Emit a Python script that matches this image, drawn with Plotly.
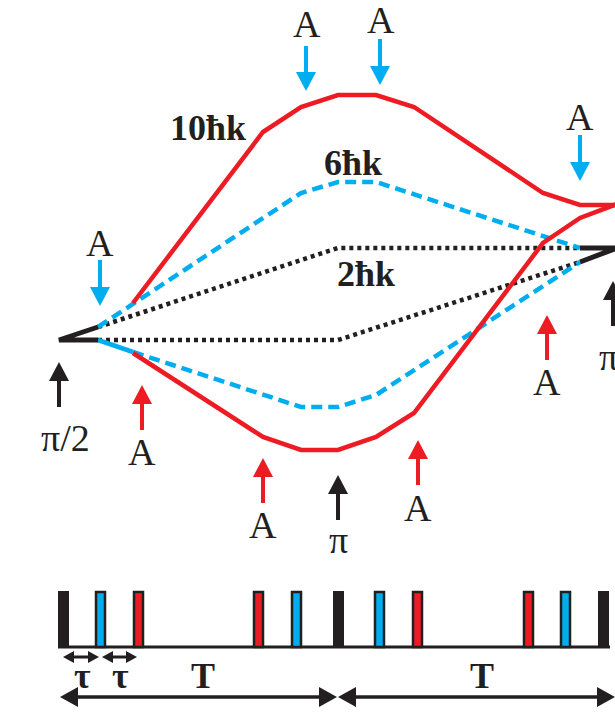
import plotly.graph_objects as go

# ---------------- data (diagram coordinates, pixel-like units) ----------------
RED = "#ED1C24"
BLUE = "#00AEEF"
BLACK = "#231F20"

# 10ħk arms (red)
red_up_x = [133, 263, 301, 338, 376, 414, 543, 580, 617]
red_up_y = [303, 132, 107, 95, 95, 107, 193, 205, 205]
red_lo_x = [133, 263, 301, 338, 376, 414, 543, 580, 617]
red_lo_y = [353, 437, 450, 450, 437, 413, 243, 218, 204]

# 6ħk arms (blue dashed)
blue_up_x = [98, 301, 338, 376, 580]
blue_up_y = [327, 193, 182, 182, 248]
blue_lo_x = [133, 301, 338, 376, 580]
blue_lo_y = [352, 407, 407, 395, 262]
blue_lo_solid_x = [98, 133]
blue_lo_solid_y = [340, 352]

# 2ħk arms (black dotted)
blk_up_x = [98, 338, 580]
blk_up_y = [327, 248, 248]
blk_lo_x = [98, 338, 580]
blk_lo_y = [340, 340, 262]

# beam splitter entry / exit (black solid)
blk_in_x = [98, 59, 98]
blk_in_y = [327, 340, 340]
blk_out_x = [580, 617, 580]
blk_out_y = [248, 248, 262]

# pulse arrows: x, tail y, tip y, colour, label, label position
arrow_x = [100, 306, 380, 580, 142, 263, 418, 547, 59, 338, 613]
arrow_tail = [260, 46, 39, 135, 430, 503, 485, 360, 407, 520, 326]
arrow_tip = [306, 91, 85, 181, 385, 458, 440, 315, 362, 475, 281]
arrow_color = [BLUE] * 4 + [RED] * 4 + [BLACK] * 3
arrow_label = ["A"] * 8 + ["π/2", "π", "π/2"]
label_x = [100, 307, 381, 580, 142, 263, 418, 547, 65, 338, 597]
label_y = [243, 24, 20, 117, 452, 525, 508, 382, 438, 540, 357]
label_anchor = ["center"] * 10 + ["left"]

# momentum labels
mom_text = ["10ħk", "6ħk", "2ħk"]
mom_x = [208, 353, 366]
mom_y = [128, 163, 274]

# pulse timeline
pulse_x = [58, 95, 133, 253, 291, 333, 374, 412, 523, 560, 598]
pulse_kind = ["k", "b", "r", "r", "b", "k", "b", "r", "r", "b", "k"]
pulse_w = 11
pulse_top = 591
pulse_bot = 648
base_x = [58, 610]
base_y = 647

tau_segments = [(63, 99), (102, 137)]
tau_y = 657
tau_label_x = [82, 120]
tau_label_y = 676
T_segments = [(60, 337), (338, 615)]
T_y = 697
T_label_x = [203, 482]
T_label_y = 676

# ---------------- figure ----------------
fig = go.Figure()


def line(x, y, color, width, dash="solid"):
    fig.add_trace(go.Scatter(x=x, y=y, mode="lines",
                             line=dict(color=color, width=width, dash=dash),
                             hoverinfo="skip", showlegend=False))


line(blk_up_x, blk_up_y, BLACK, 4.5, "4px,4px")
line(blk_lo_x, blk_lo_y, BLACK, 4.5, "4px,4px")
line(blue_up_x, blue_up_y, BLUE, 4.5, "11px,6px")
line(blue_lo_x, blue_lo_y, BLUE, 4.5, "11px,6px")
line(blue_lo_solid_x, blue_lo_solid_y, BLUE, 4.5)
line(red_up_x, red_up_y, RED, 4.5)
line(red_lo_x, red_lo_y, RED, 4.5)
line(blk_in_x, blk_in_y, BLACK, 5)
line(blk_out_x, blk_out_y, BLACK, 5)

shapes = []
annotations = []

HEAD_LEN = 19
HEAD_HALF = 10
for x, t, p, c in zip(arrow_x, arrow_tail, arrow_tip, arrow_color):
    d = 1 if p > t else -1
    base = p - d * HEAD_LEN
    shapes.append(dict(type="line", xref="x", yref="y", x0=x, x1=x, y0=t, y1=base + d * 1,
                       line=dict(color=c, width=4)))
    shapes.append(dict(type="path", xref="x", yref="y",
                       path=f"M {x - HEAD_HALF} {base} L {x + HEAD_HALF} {base} L {x} {p} Z",
                       fillcolor=c, line=dict(color=c, width=0)))

for txt, x, y, anc in zip(arrow_label, label_x, label_y, label_anchor):
    annotations.append(dict(x=x, y=y, xref="x", yref="y", text=txt, showarrow=False,
                            xanchor=anc, yanchor="middle",
                            font=dict(family="Liberation Serif", size=38, color=BLACK)))

for txt, x, y in zip(mom_text, mom_x, mom_y):
    annotations.append(dict(x=x, y=y, xref="x", yref="y", text=f"<b>{txt}</b>", showarrow=False,
                            xanchor="center", yanchor="middle",
                            font=dict(family="Liberation Serif", size=36, color=BLACK)))

# timeline pulses
colmap = {"k": BLACK, "b": BLUE, "r": RED}
shapes.append(dict(type="line", xref="x", yref="y", x0=base_x[0], x1=base_x[1], y0=base_y, y1=base_y,
                   line=dict(color=BLACK, width=3)))
for x, k in zip(pulse_x, pulse_kind):
    if k == "k":
        shapes.append(dict(type="rect", xref="x", yref="y", x0=x, x1=x + pulse_w, y0=pulse_top, y1=pulse_bot,
                           fillcolor=BLACK, line=dict(width=0)))
    else:
        shapes.append(dict(type="rect", xref="x", yref="y", x0=x + 1, x1=x + pulse_w - 1, y0=pulse_top + 1,
                           y1=pulse_bot - 1, fillcolor=colmap[k], line=dict(color=BLACK, width=2.5)))


def double_arrow(x0, x1, y, hl, hh, w):
    shapes.append(dict(type="line", xref="x", yref="y", x0=x0 + hl - 1, x1=x1 - hl + 1, y0=y, y1=y,
                       line=dict(color=BLACK, width=w)))
    shapes.append(dict(type="path", xref="x", yref="y",
                       path=f"M {x0} {y} L {x0 + hl} {y - hh} L {x0 + hl} {y + hh} Z",
                       fillcolor=BLACK, line=dict(width=0)))
    shapes.append(dict(type="path", xref="x", yref="y",
                       path=f"M {x1} {y} L {x1 - hl} {y - hh} L {x1 - hl} {y + hh} Z",
                       fillcolor=BLACK, line=dict(width=0)))


for a, b in tau_segments:
    double_arrow(a, b, tau_y, 11, 6, 3)
for a, b in T_segments:
    double_arrow(a, b, T_y, 18, 10, 3.5)

for x in tau_label_x:
    annotations.append(dict(x=x, y=tau_label_y, xref="x", yref="y", text="<b>τ</b>", showarrow=False,
                            xanchor="center", yanchor="middle",
                            font=dict(family="Liberation Serif", size=36, color=BLACK)))
for x in T_label_x:
    annotations.append(dict(x=x, y=T_label_y, xref="x", yref="y", text="<b>T</b>", showarrow=False,
                            xanchor="center", yanchor="middle",
                            font=dict(family="Liberation Serif", size=36, color=BLACK)))

fig.update_layout(
    width=615, height=715,
    margin=dict(l=0, r=0, t=0, b=0),
    paper_bgcolor="white", plot_bgcolor="white",
    xaxis=dict(range=[0, 615], visible=False, fixedrange=True),
    yaxis=dict(range=[715, 0], visible=False, fixedrange=True),
    shapes=shapes, annotations=annotations, showlegend=False,
)

fig.write_html("out.html")
